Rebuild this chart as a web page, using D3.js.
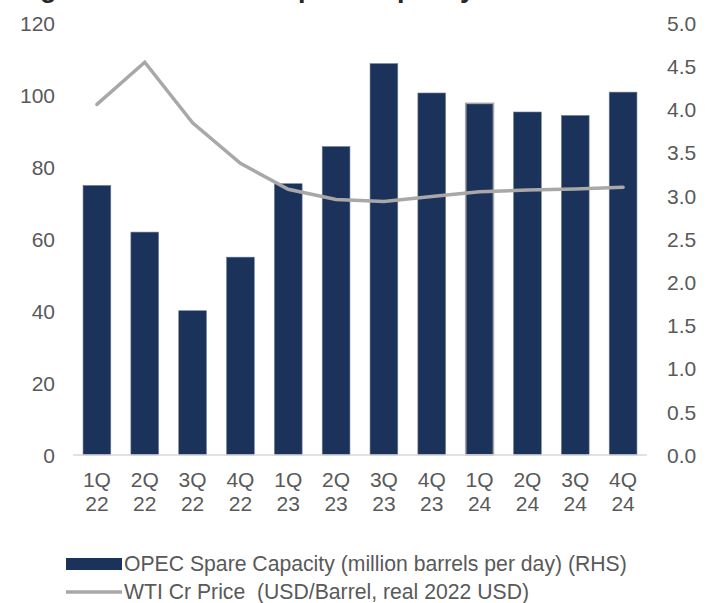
<!DOCTYPE html>
<html>
<head>
<meta charset="utf-8">
<script src="https://cdn.jsdelivr.net/npm/d3@7"></script>
<style>
  html, body { margin: 0; padding: 0; background: #ffffff; }
  svg { display: block; }
  text { font-family: "Liberation Sans", Arial, sans-serif; }
</style>
</head>
<body>
<svg id="chart" width="713" height="603"></svg>
<script>
// ---- data ----
const categories = ["1Q 22","2Q 22","3Q 22","4Q 22","1Q 23","2Q 23","3Q 23","4Q 23","1Q 24","2Q 24","3Q 24","4Q 24"];
// OPEC spare capacity (million barrels per day) - right axis
const spareCapacity = [3.12, 2.58, 1.67, 2.29, 3.14, 3.57, 4.53, 4.19, 4.07, 3.97, 3.93, 4.20];
// WTI crude price (USD/barrel, real 2022 USD) - left axis
const wtiPrice = [97.4, 109.1, 92.3, 81.0, 73.8, 71.0, 70.4, 71.8, 73.1, 73.6, 73.9, 74.4];
const leftTicks = [0, 20, 40, 60, 80, 100, 120];
const rightTicks = [0, 0.5, 1, 1.5, 2, 2.5, 3, 3.5, 4, 4.5, 5];
const legendLabels = ["OPEC Spare Capacity (million barrels per day) (RHS)", "WTI Cr Price  (USD/Barrel, real 2022 USD)"];

// ---- layout ----
const svg = d3.select("#chart");
const x0 = 73, x1 = 647, yBottom = 455, yTop = 23;
const textColor = "#595959";
const barColor = "#1B325B";
const lineColor = "#AAA7A7";
const fontSize = 21;

const x = d3.scaleBand().domain(categories).range([x0, x1]).paddingInner(0.42).paddingOuter(0.21);
const yL = d3.scaleLinear().domain([0, 120]).range([yBottom, yTop]);
const yR = d3.scaleLinear().domain([0, 5]).range([yBottom, yTop]);

// title (mostly clipped at the top edge, as in the reference)
const title = svg.append("text")
  .attr("y", -3)
  .attr("font-size", 27)
  .attr("font-weight", "bold")
  .attr("fill", "#262626");
title.append("tspan").attr("x", 16).text("Figure 12:");
title.append("tspan").attr("x", 196).text("OPEC Spare Capacity vs WTI Price");

// bars
svg.append("g").selectAll("rect")
  .data(categories)
  .join("rect")
  .attr("x", d => x(d))
  .attr("width", x.bandwidth())
  .attr("y", (d, i) => yR(spareCapacity[i]))
  .attr("height", (d, i) => yBottom - yR(spareCapacity[i]))
  .attr("fill", barColor)
  .attr("stroke", d => d === "1Q 24" ? "#A6A6A6" : "#6E7F9C")
  .attr("stroke-width", d => d === "1Q 24" ? 1.6 : 0.6);

// bottom axis
const xAxis = svg.append("g")
  .attr("transform", `translate(0,${yBottom})`)
  .call(d3.axisBottom(x).tickSize(0).tickPadding(0));
xAxis.select(".domain").attr("stroke", "#D9D9D9").attr("stroke-width", 1.6)
  .attr("d", `M${x0},0H${x1}`);
xAxis.selectAll(".tick text").each(function(d) {
  const t = d3.select(this);
  const parts = d.split(" ");
  t.text(null).attr("dy", null).attr("y", 0)
    .attr("font-size", fontSize).attr("fill", textColor)
    .attr("font-family", "Liberation Sans, Arial, sans-serif");
  t.append("tspan").attr("x", 0).attr("y", 32).text(parts[0]);
  t.append("tspan").attr("x", 0).attr("y", 56).text(parts[1]);
});

// left axis
const leftAxis = svg.append("g")
  .attr("transform", `translate(${x0},0)`)
  .call(d3.axisLeft(yL).tickValues(leftTicks).tickSize(0).tickPadding(18).tickFormat(d3.format("d")));
leftAxis.select(".domain").remove();
leftAxis.selectAll("text").attr("font-size", fontSize).attr("fill", textColor)
  .attr("font-family", "Liberation Sans, Arial, sans-serif").attr("dy", "0.35em");

// right axis
const rightAxis = svg.append("g")
  .attr("transform", `translate(${x1},0)`)
  .call(d3.axisRight(yR).tickValues(rightTicks).tickSize(0).tickPadding(20).tickFormat(d3.format(".1f")));
rightAxis.select(".domain").remove();
rightAxis.selectAll("text").attr("font-size", fontSize).attr("fill", textColor)
  .attr("font-family", "Liberation Sans, Arial, sans-serif").attr("dy", "0.35em");

// line
const line = d3.line()
  .x((d, i) => x(categories[i]) + x.bandwidth() / 2)
  .y(d => yL(d));
svg.append("path")
  .datum(wtiPrice)
  .attr("d", line)
  .attr("fill", "none")
  .attr("stroke", lineColor)
  .attr("stroke-width", 3.5)
  .attr("stroke-linecap", "round")
  .attr("stroke-linejoin", "miter");

// legend
const lg = svg.append("g");
lg.append("rect").attr("x", 66).attr("y", 558).attr("width", 56).attr("height", 12).attr("fill", barColor);
lg.append("text").attr("x", 124).attr("y", 564).attr("dy", "0.35em")
  .attr("font-size", 21.2).attr("fill", textColor).text(legendLabels[0]);
lg.append("line").attr("x1", 66).attr("x2", 122).attr("y1", 592).attr("y2", 592)
  .attr("stroke", lineColor).attr("stroke-width", 3.5);
lg.append("text").attr("x", 124).attr("y", 592).attr("dy", "0.35em")
  .attr("xml:space", "preserve").style("white-space", "pre")
  .attr("font-size", 21.2).attr("fill", textColor).text(legendLabels[1]);
</script>
</body>
</html>
